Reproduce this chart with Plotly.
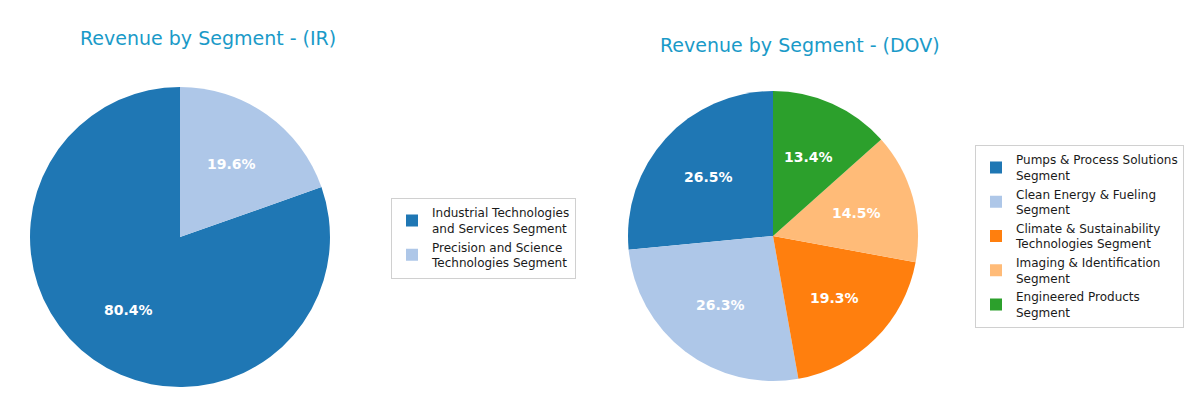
import math
import plotly.graph_objects as go

W, H = 1200, 417

# IR segments
ir_labels = ["Industrial Technologies<br>and Services Segment",
             "Precision and Science<br>Technologies Segment"]
ir_values = [80.4, 19.6]
ir_colors = ["#1f77b4", "#aec7e8"]

# DOV segments
dov_labels = ["Pumps & Process Solutions<br>Segment",
              "Clean Energy & Fueling<br>Segment",
              "Climate & Sustainability<br>Technologies Segment",
              "Imaging & Identification<br>Segment",
              "Engineered Products<br>Segment"]
dov_values = [26.5, 26.3, 19.3, 14.5, 13.4]
dov_colors = ["#1f77b4", "#aec7e8", "#ff7f0e", "#ffbb78", "#2ca02c"]

title_color = "#1a9ac8"
font_family = "DejaVu Sans"

# pie placement in pixels: centre x, centre y (from top), radius
ir_geo = (180, 237, 150)
dov_geo = (773, 236, 145)


def domain(geo):
    cx, cy, r = geo
    return dict(x=[(cx - r) / W, (cx + r) / W],
                y=[1 - (cy + r) / H, 1 - (cy - r) / H])


def start_rotation(values):
    # plotly's ccw pies end the first slice at 12 o'clock; shift so it starts there
    return -360 * values[0] / sum(values)


def pct_labels(values, geo):
    # matplotlib style: labels at 0.6 r along slice bisector, start at 90 deg, ccw
    cx, cy, r = geo
    total = sum(values)
    out = []
    cum = 0
    for v in values:
        mid = math.radians(90 + 360 * (cum + v / 2) / total)
        cum += v
        px = cx + 0.6 * r * math.cos(mid)
        py = cy - 0.6 * r * math.sin(mid)
        out.append(dict(x=px / W, y=1 - py / H, xref="paper", yref="paper",
                        text="<b>%.1f%%</b>" % (100 * v / total), showarrow=False,
                        font=dict(color="white", size=14, family=font_family),
                        xanchor="center", yanchor="middle"))
    return out


fig = go.Figure()
fig.add_trace(go.Pie(
    labels=ir_labels, values=ir_values, sort=False, direction="counterclockwise",
    rotation=start_rotation(ir_values), marker=dict(colors=ir_colors, line=dict(width=0)),
    textinfo="none", domain=domain(ir_geo), legend="legend", hoverinfo="label+percent"
))
fig.add_trace(go.Pie(
    labels=dov_labels, values=dov_values, sort=False, direction="counterclockwise",
    rotation=start_rotation(dov_values), marker=dict(colors=dov_colors, line=dict(width=0)),
    textinfo="none", domain=domain(dov_geo), legend="legend2", hoverinfo="label+percent"
))

annotations = pct_labels(ir_values, ir_geo) + pct_labels(dov_values, dov_geo)
annotations.append(dict(x=208 / W, y=1 - 38 / H, xref="paper", yref="paper",
                        text="Revenue by Segment - (IR)", showarrow=False,
                        font=dict(color=title_color, size=19, family=font_family),
                        xanchor="center", yanchor="middle"))
annotations.append(dict(x=800 / W, y=1 - 45 / H, xref="paper", yref="paper",
                        text="Revenue by Segment - (DOV)", showarrow=False,
                        font=dict(color=title_color, size=19, family=font_family),
                        xanchor="center", yanchor="middle"))

legend_style = dict(bgcolor="white", bordercolor="#d0d0d0", borderwidth=1,
                    font=dict(size=12, family=font_family, color="#1a1a1a"),
                    xanchor="left", yanchor="middle", xref="paper", yref="paper")

fig.update_layout(
    width=W, height=H,
    margin=dict(l=0, r=0, t=0, b=0),
    paper_bgcolor="white",
    plot_bgcolor="white",
    font=dict(family=font_family),
    showlegend=True,
    legend=dict(x=391 / W, y=1 - 238 / H, **legend_style),
    legend2=dict(x=975 / W, y=1 - 236 / H, **legend_style),
    annotations=annotations,
)

fig.write_html("out.html", config={"displayModeBar": False},
               post_script="document.body.style.margin='0';")
